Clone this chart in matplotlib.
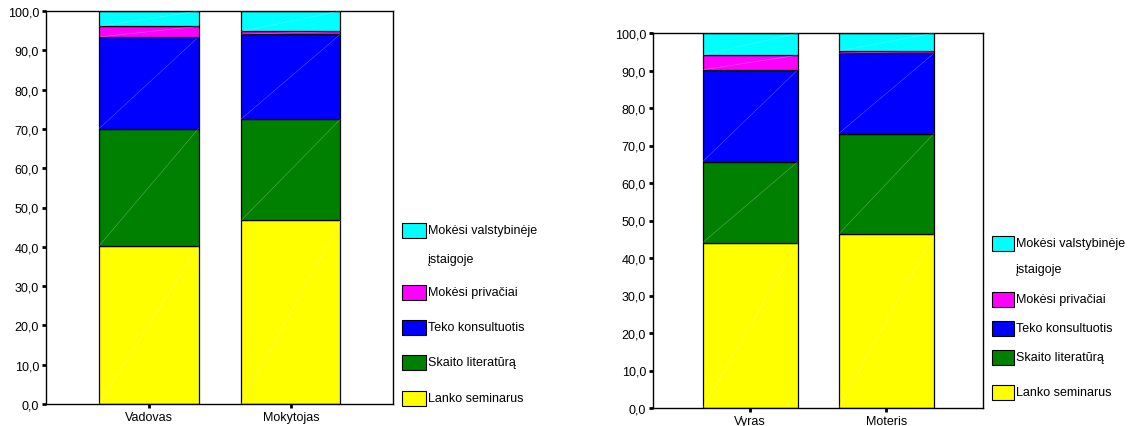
import matplotlib.pyplot as plt
from matplotlib.patches import Rectangle
import numpy as np

plt.rcParams['font.family'] = ['Liberation Sans', 'DejaVu Sans']
plt.rcParams['font.size'] = 9

# data (percent, stacked bottom -> top)
series = ['Lanko seminarus', 'Skaito literatūrą', 'Teko konsultuotis',
          'Mokėsi privačiai', 'Mokėsi valstybinėje\nįstaigoje']
colors = ['#FFFF00', '#008000', '#0000FF', '#FF00FF', '#00FFFF']

left_cats = ['Vadovas', 'Mokytojas']
left_vals = [
    [40.3, 46.7],   # Lanko seminarus
    [29.8, 25.8],   # Skaito literatūrą
    [23.3, 21.6],   # Teko konsultuotis
    [2.7, 0.7],     # Mokėsi privačiai
    [3.9, 5.2],     # Mokėsi valstybinėje įstaigoje
]

right_cats = ['Vyras', 'Moteris']
right_vals = [
    [44.1, 46.4],
    [21.6, 26.8],
    [24.5, 21.4],
    [3.9, 0.6],
    [5.9, 4.8],
]

yticks = np.arange(0, 101, 10)
ytick_labels = [f'{v:.1f}'.replace('.', ',') for v in yticks]

W, H = 1133, 427


def px_rect(x0, y0, x1, y1):
    # pixel box (top-left origin) -> figure fraction [l, b, w, h]
    return [x0 / W, 1 - y1 / H, (x1 - x0) / W, (y1 - y0) / H]


def draw_stack(ax, cats, vals, xlim):
    x = np.arange(len(cats))
    width = 0.70
    bottom = np.zeros(len(cats))
    for v, c in zip(vals, colors):
        v = np.array(v)
        ax.bar(x, v, width, bottom=bottom, color=c, edgecolor='black',
               linewidth=0.9, zorder=2)
        # faint diagonal inside each segment
        for xi, b, h in zip(x, bottom, v):
            ax.plot([xi - width / 2, xi + width / 2], [b, b + h],
                    color='white', lw=0.4, alpha=0.35, zorder=3)
        bottom = bottom + v
    ax.set_xlim(*xlim)
    ax.set_ylim(0, 100)
    ax.set_xticks(x)
    ax.set_xticklabels(cats)
    ax.set_yticks(yticks)
    ax.set_yticklabels(ytick_labels)
    ax.tick_params(axis='both', direction='out', length=3, width=2,
                   pad=2, labelsize=9)
    for s in ax.spines.values():
        s.set_linewidth(1.0)
        s.set_color('black')


def draw_legend(fig, x0, rows_y, box_w, box_h):
    # rows_y: pixel centres for cyan, 'įstaigoje', magenta, blue, green, yellow
    order = [4, 3, 2, 1, 0]
    ys = [rows_y[0]] + rows_y[2:]
    for i, y in zip(order, ys):
        fig.add_artist(Rectangle((x0 / W, 1 - (y + box_h / 2) / H),
                                 box_w / W, box_h / H,
                                 transform=fig.transFigure,
                                 facecolor=colors[i], edgecolor='black',
                                 linewidth=0.8))
        label = series[i].split('\n')[0]
        fig.text((x0 + box_w + 2) / W, 1 - y / H, label,
                 ha='left', va='center', fontsize=9)
    fig.text((x0 + box_w + 2) / W, 1 - rows_y[1] / H, 'įstaigoje',
             ha='left', va='center', fontsize=9)


fig = plt.figure(figsize=(W / 100, H / 100), dpi=100)

ax1 = fig.add_axes(px_rect(46, 12, 393, 405))
draw_stack(ax1, left_cats, left_vals, (-0.725, 1.72))

ax2 = fig.add_axes(px_rect(653, 34, 983, 409))
draw_stack(ax2, right_cats, right_vals, (-0.715, 1.71))

draw_legend(fig, 402, [231, 260, 293, 328, 363, 399], 24, 15)
draw_legend(fig, 992, [244, 270, 300, 329, 358, 393], 22, 15)

plt.savefig('out.png', dpi=100)
plt.close()
